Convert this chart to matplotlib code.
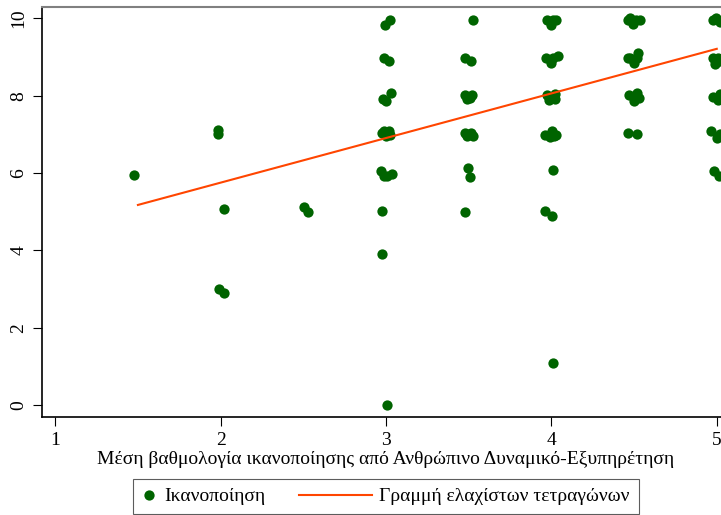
import numpy as np
import matplotlib.pyplot as plt
from matplotlib.legend_handler import HandlerLine2D

plt.rcParams['font.family'] = ['Liberation Serif', 'DejaVu Serif']

# jittered scatter points (x = mean score, y = satisfaction)
x_pts = [1.477,
         1.985, 1.985, 2.021, 1.991, 2.021,
         2.505, 2.529,
         2.994, 3.024, 2.988, 3.018, 2.982, 3.030, 3.000,
         2.976, 3.018, 3.000, 2.988, 3.024,
         2.970, 3.006, 3.036, 2.988, 2.976, 2.976, 3.006,
         3.526, 3.477, 3.514, 3.477, 3.520, 3.489, 3.508,
         3.477, 3.514, 3.526, 3.489, 3.495, 3.508, 3.477,
         3.973, 4.027, 3.997, 4.009, 3.967, 4.039, 3.997, 4.009,
         3.973, 4.021, 3.985, 4.021, 3.997,
         3.961, 4.003, 4.027, 3.991, 4.015, 4.009, 3.961, 4.003, 4.009,
         4.462, 4.535, 4.492, 4.511, 4.474,
         4.474, 4.523, 4.498, 4.517, 4.462,
         4.468, 4.517, 4.498, 4.529, 4.462, 4.517,
         4.976, 5.018, 4.994, 4.976, 5.006, 4.988, 5.018,
         4.976, 5.018, 5.006, 4.964, 5.000, 5.018, 4.982, 5.012]
y_pts = [5.94,
         7.11, 7.00, 5.06, 3.00, 2.89,
         5.12, 4.99,
         9.84, 9.97, 8.97, 8.89, 7.91, 8.06, 7.86,
         7.05, 7.08, 6.95, 7.10, 6.98,
         6.05, 5.92, 5.97, 5.92, 5.01, 3.90, 0.00,
         9.97, 8.99, 8.91, 8.01, 8.01, 7.91, 7.93,
         7.03, 7.05, 6.95, 6.95, 6.12, 5.89, 4.99,
         9.97, 9.97, 9.84, 9.95, 8.99, 9.02, 8.84, 8.97,
         8.01, 8.04, 7.88, 7.91, 7.98,
         6.98, 7.08, 6.98, 6.93, 6.95, 6.07, 5.01, 4.88, 1.09,
         9.95, 9.95, 9.87, 9.97, 10.00,
         8.97, 9.10, 8.86, 8.99, 8.99,
         8.01, 8.06, 7.86, 7.93, 7.03, 7.00,
         9.95, 9.90, 10.00, 8.97, 8.99, 8.81, 8.91,
         7.98, 8.04, 7.88, 7.08, 6.90, 7.00, 6.05, 5.92]

# least squares line
intercept = 3.445
slope = 1.154
fit_range = [1.5, 5.0]

green = '#006400'
orange = '#ff4500'


class LongLine(HandlerLine2D):
    # line handle that reaches further left than the (short) handle box
    def get_xdata(self, legend, xdescent, ydescent, width, height, fontsize):
        return ([-xdescent - 3.0 * fontsize, -xdescent + width],
                [-xdescent + 0.5 * width])


fig = plt.figure(figsize=(7.21, 5.15), dpi=100)
ax = fig.add_axes([42 / 721, 1 - 417 / 515, 688 / 721, (417 - 6.5) / 515])

pts, = ax.plot(x_pts, y_pts, 'o', color=green, markersize=7.4,
               markeredgewidth=0, label='Ικανοποίηση')
fx = np.array(fit_range)
fit_line, = ax.plot(fx, intercept + slope * fx, color=orange, lw=1.5,
                    label='Γραμμή ελαχίστων τετραγώνων')

ax.set_xlim(0.92, 5.08)
ax.set_ylim(-0.31, 10.31)
ax.set_xticks([1, 2, 3, 4, 5])
ax.set_yticks([0, 2, 4, 6, 8, 10])
ax.tick_params(labelsize=14, length=6.5, width=0.8, pad=4, colors='black')
plt.setp(ax.get_yticklabels(), rotation=90, va='center')

for s in ['left', 'bottom']:
    ax.spines[s].set_linewidth(1.2)
ax.spines['right'].set_visible(False)
ax.spines['top'].set_color('#808080')
ax.spines['top'].set_linewidth(1.5)

ax.set_xlabel('Μέση βαθμολογία ικανοποίησης από Ανθρώπινο Δυναμικό-Εξυπηρέτηση',
              fontsize=14, labelpad=2)

leg = fig.legend(handles=[pts, fit_line], ncol=2, loc='upper center',
                 bbox_to_anchor=(386 / 721, 1 - 479 / 515), borderaxespad=0,
                 fontsize=14, handlelength=0.75, handletextpad=0.4,
                 columnspacing=4.7, borderpad=0.45, frameon=True,
                 fancybox=False, handler_map={fit_line: LongLine()})
leg.get_frame().set_edgecolor('#333333')
leg.get_frame().set_linewidth(0.8)

fig.savefig('out.png', dpi=100)
